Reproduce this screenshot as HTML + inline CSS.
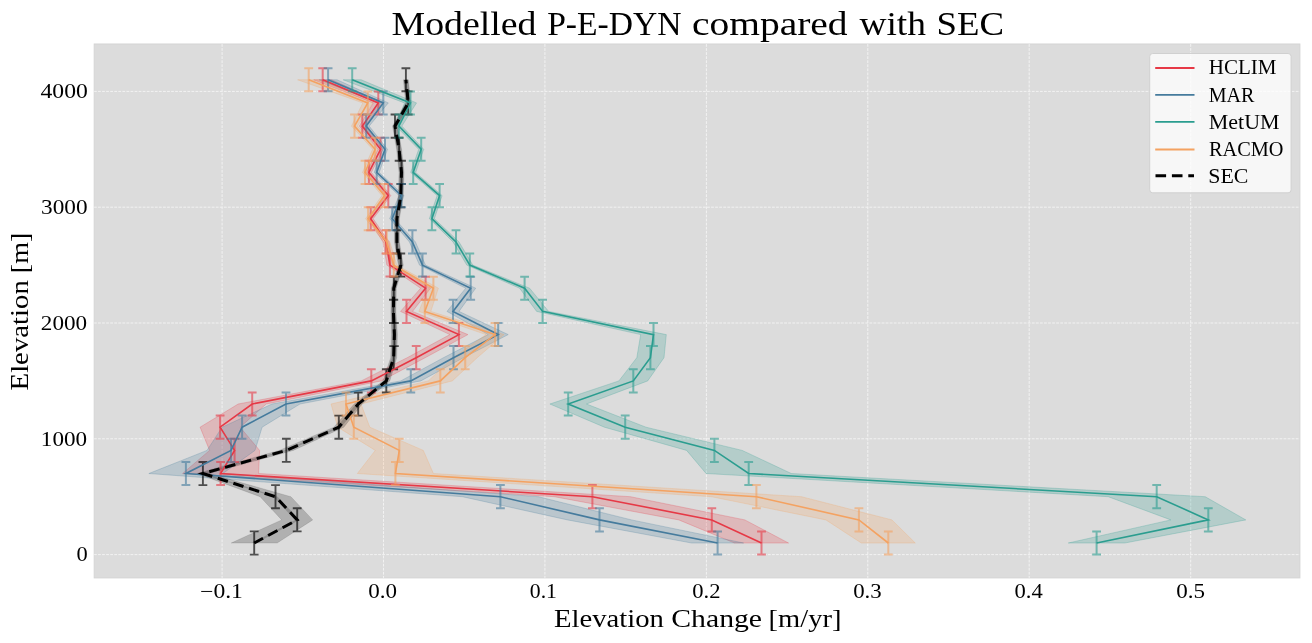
<!DOCTYPE html>
<html><head><meta charset="utf-8"><style>
html,body{margin:0;padding:0;background:#fff;width:1312px;height:643px;overflow:hidden}
svg{display:block;will-change:transform}
text{font-family:"Liberation Serif",serif;fill:#000}
</style></head><body>
<svg width="1312" height="643" viewBox="0 0 1312 643">
<rect x="0" y="0" width="1312" height="643" fill="#ffffff"/>
<rect x="94.2" y="44.0" width="1205.7" height="533.9" fill="#dcdcdc" stroke="#d4d4d4" stroke-width="1"/>
<defs><clipPath id="ax"><rect x="94.2" y="44.0" width="1205.7" height="533.9"/></clipPath></defs>
<g stroke="#f2f2f2" stroke-width="1" stroke-dasharray="2.8,1.26" stroke-dashoffset="0.8" fill="none"><line x1="222.1" y1="577.9" x2="222.1" y2="44.0"/><line x1="383.5" y1="577.9" x2="383.5" y2="44.0"/><line x1="544.9" y1="577.9" x2="544.9" y2="44.0"/><line x1="706.4" y1="577.9" x2="706.4" y2="44.0"/><line x1="867.8" y1="577.9" x2="867.8" y2="44.0"/><line x1="1029.2" y1="577.9" x2="1029.2" y2="44.0"/><line x1="1190.7" y1="577.9" x2="1190.7" y2="44.0"/></g>
<g stroke="#f2f2f2" stroke-width="1" stroke-dasharray="2.8,1.26" stroke-dashoffset="0.23" fill="none"><line x1="94.2" y1="554.6" x2="1299.9" y2="554.6"/><line x1="94.2" y1="438.8" x2="1299.9" y2="438.8"/><line x1="94.2" y1="323.0" x2="1299.9" y2="323.0"/><line x1="94.2" y1="207.2" x2="1299.9" y2="207.2"/><line x1="94.2" y1="91.4" x2="1299.9" y2="91.4"/></g>
<g clip-path="url(#ax)">
<polygon points="734.5,543.0 678.8,519.9 554.4,496.7 182.6,473.5 209.6,450.4 200.1,427.2 238.2,404.0 361.3,380.9 407.2,357.7 449.9,334.6 400.5,311.4 420.6,288.2 386.9,265.1 383.0,241.9 368.2,218.7 385.8,195.6 366.4,172.4 378.1,149.3 359.3,126.1 373.3,102.9 313.7,79.8 331.7,79.8 383.3,102.9 365.3,126.1 383.1,149.3 371.4,172.4 390.8,195.6 373.2,218.7 389.0,241.9 392.9,265.1 430.6,288.2 412.5,311.4 467.9,334.6 425.2,357.7 381.3,380.9 266.2,404.0 240.1,427.2 259.6,450.4 258.6,473.5 630.4,496.7 744.8,519.9 788.5,543.0" fill="#e63946" fill-opacity="0.22" stroke="#e63946" stroke-opacity="0.25" stroke-width="1"/>
<polygon points="691.6,543.0 567.5,519.9 462.4,496.7 148.9,473.5 207.0,450.4 222.1,427.2 272.0,404.0 400.8,380.9 443.5,357.7 488.2,334.6 447.0,311.4 465.7,288.2 419.5,265.1 409.4,241.9 389.7,218.7 399.0,195.6 374.2,172.4 382.5,149.3 363.2,126.1 378.3,102.9 319.1,79.8 337.1,79.8 388.3,102.9 369.2,126.1 387.5,149.3 379.2,172.4 404.0,195.6 394.7,218.7 415.4,241.9 425.5,265.1 475.7,288.2 459.0,311.4 508.2,334.6 463.5,357.7 420.8,380.9 300.0,404.0 262.1,427.2 255.0,450.4 222.9,473.5 538.4,496.7 631.5,519.9 743.6,543.0" fill="#457b9d" fill-opacity="0.22" stroke="#457b9d" stroke-opacity="0.25" stroke-width="1"/>
<polygon points="1068.3,543.0 1170.8,519.9 1108.2,496.7 706.1,473.5 686.6,450.4 604.4,427.2 549.9,404.0 618.9,380.9 636.8,357.7 640.7,334.6 536.6,311.4 519.6,288.2 466.8,265.1 453.0,241.9 429.4,218.7 437.1,195.6 410.7,172.4 418.7,149.3 395.9,126.1 404.5,102.9 343.2,79.8 361.2,79.8 416.5,102.9 401.9,126.1 423.7,149.3 415.7,172.4 442.1,195.6 434.4,218.7 459.0,241.9 472.8,265.1 529.6,288.2 548.6,311.4 666.3,334.6 664.0,357.7 647.7,380.9 586.5,404.0 646.0,427.2 742.2,450.4 791.3,473.5 1205.2,496.7 1245.8,519.9 1124.9,543.0" fill="#2a9d8f" fill-opacity="0.22" stroke="#2a9d8f" stroke-opacity="0.25" stroke-width="1"/>
<polygon points="861.3,543.0 825.9,519.9 711.4,496.7 357.4,473.5 375.3,450.4 337.8,427.2 331.0,404.0 428.3,380.9 453.2,357.7 486.0,334.6 418.8,311.4 428.4,288.2 390.8,265.1 383.8,241.9 365.6,218.7 381.9,195.6 362.5,172.4 372.6,149.3 351.5,126.1 362.8,102.9 297.7,79.8 319.7,79.8 372.8,102.9 357.5,126.1 377.6,149.3 367.5,172.4 386.9,195.6 370.6,218.7 389.8,241.9 396.8,265.1 438.4,288.2 430.8,311.4 504.0,334.6 477.2,357.7 452.3,380.9 361.0,404.0 369.8,427.2 423.3,450.4 433.4,473.5 801.4,496.7 891.9,519.9 915.3,543.0" fill="#f4a261" fill-opacity="0.22" stroke="#f4a261" stroke-opacity="0.25" stroke-width="1"/>
<polygon points="231.2,543.0 281.7,519.9 260.1,496.7 196.9,473.5 279.3,450.4 333.8,427.2 354.2,404.0 382.8,380.9 390.7,357.7 391.4,334.6 390.9,311.4 391.3,288.2 398.3,265.1 394.4,241.9 394.4,218.7 398.3,195.6 399.0,172.4 396.6,149.3 392.5,126.1 405.7,102.9 403.4,79.8 408.4,79.8 410.7,102.9 397.5,126.1 401.6,149.3 404.0,172.4 403.3,195.6 399.4,218.7 399.4,241.9 403.3,265.1 396.3,288.2 395.9,311.4 397.4,334.6 396.7,357.7 389.8,380.9 362.2,404.0 343.8,427.2 293.3,450.4 208.9,473.5 290.9,496.7 312.7,519.9 277.2,543.0" fill="#000" fill-opacity="0.2" stroke="#000" stroke-opacity="0.1" stroke-width="1"/>
<polygon points="252.0,543.0 295.0,519.9 273.3,496.7 200.7,473.5 284.1,450.4 336.6,427.2 356.0,404.0 384.1,380.9 391.5,357.7 392.2,334.6 391.2,311.4 391.6,288.2 398.6,265.1 394.7,241.9 394.7,218.7 398.6,195.6 399.3,172.4 396.9,149.3 392.8,126.1 406.0,102.9 403.7,79.8 408.1,79.8 410.4,102.9 397.2,126.1 401.3,149.3 403.7,172.4 403.0,195.6 399.1,218.7 399.1,241.9 403.0,265.1 396.0,288.2 395.6,311.4 396.6,334.6 395.9,357.7 388.5,380.9 360.4,404.0 341.0,427.2 288.5,450.4 205.1,473.5 277.7,496.7 299.4,519.9 256.4,543.0" fill="#000" fill-opacity="0.18" stroke="none"/>
<path d="M254.2,531.4V554.6M249.8,531.4H258.6M249.8,554.6H258.6M297.2,508.3V531.4M292.8,508.3H301.6M292.8,531.4H301.6M275.5,485.1V508.3M271.1,485.1H279.9M271.1,508.3H279.9M202.9,462.0V485.1M198.5,462.0H207.3M198.5,485.1H207.3M286.3,438.8V461.9M281.9,438.8H290.7M281.9,461.9H290.7M338.8,415.6V438.8M334.4,415.6H343.2M334.4,438.8H343.2M358.2,392.5V415.6M353.8,392.5H362.6M353.8,415.6H362.6M386.3,369.3V392.5M381.9,369.3H390.7M381.9,392.5H390.7M393.7,346.1V369.3M389.3,346.1H398.1M389.3,369.3H398.1M394.4,323.0V346.1M390.0,323.0H398.8M390.0,346.1H398.8M393.4,299.8V323.0M389.0,299.8H397.8M389.0,323.0H397.8M393.8,276.7V299.8M389.4,276.7H398.2M389.4,299.8H398.2M400.8,253.5V276.6M396.4,253.5H405.2M396.4,276.6H405.2M396.9,230.3V253.5M392.5,230.3H401.3M392.5,253.5H401.3M396.9,207.2V230.3M392.5,207.2H401.3M392.5,230.3H401.3M400.8,184.0V207.2M396.4,184.0H405.2M396.4,207.2H405.2M401.5,160.8V184.0M397.1,160.8H405.9M397.1,184.0H405.9M399.1,137.7V160.8M394.7,137.7H403.5M394.7,160.8H403.5M395.0,114.5V137.7M390.6,114.5H399.4M390.6,137.7H399.4M408.2,91.4V114.5M403.8,91.4H412.6M403.8,114.5H412.6M405.9,68.2V91.3M401.5,68.2H410.3M401.5,91.3H410.3" fill="none" stroke="#000" stroke-opacity="0.65" stroke-width="1.9"/>
<polyline points="761.5,543.0 711.8,519.9 592.4,496.7 220.6,473.5 234.6,450.4 220.1,427.2 252.2,404.0 371.3,380.9 416.2,357.7 458.9,334.6 406.5,311.4 425.6,288.2 389.9,265.1 386.0,241.9 370.7,218.7 388.3,195.6 368.9,172.4 380.6,149.3 362.3,126.1 378.3,102.9 322.7,79.8" fill="none" stroke="#e63946" stroke-width="1.6" stroke-linejoin="miter"/>
<path d="M761.5,531.4V554.6M757.1,531.4H765.9M757.1,554.6H765.9M711.8,508.3V531.4M707.4,508.3H716.2M707.4,531.4H716.2M592.4,485.1V508.3M588.0,485.1H596.8M588.0,508.3H596.8M220.6,462.0V485.1M216.2,462.0H225.0M216.2,485.1H225.0M234.6,438.8V461.9M230.2,438.8H239.0M230.2,461.9H239.0M220.1,415.6V438.8M215.7,415.6H224.5M215.7,438.8H224.5M252.2,392.5V415.6M247.8,392.5H256.6M247.8,415.6H256.6M371.3,369.3V392.5M366.9,369.3H375.7M366.9,392.5H375.7M416.2,346.1V369.3M411.8,346.1H420.6M411.8,369.3H420.6M458.9,323.0V346.1M454.5,323.0H463.3M454.5,346.1H463.3M406.5,299.8V323.0M402.1,299.8H410.9M402.1,323.0H410.9M425.6,276.7V299.8M421.2,276.7H430.0M421.2,299.8H430.0M389.9,253.5V276.6M385.5,253.5H394.3M385.5,276.6H394.3M386.0,230.3V253.5M381.6,230.3H390.4M381.6,253.5H390.4M370.7,207.2V230.3M366.3,207.2H375.1M366.3,230.3H375.1M388.3,184.0V207.2M383.9,184.0H392.7M383.9,207.2H392.7M368.9,160.8V184.0M364.5,160.8H373.3M364.5,184.0H373.3M380.6,137.7V160.8M376.2,137.7H385.0M376.2,160.8H385.0M362.3,114.5V137.7M357.9,114.5H366.7M357.9,137.7H366.7M378.3,91.4V114.5M373.9,91.4H382.7M373.9,114.5H382.7M322.7,68.2V91.3M318.3,68.2H327.1M318.3,91.3H327.1" fill="none" stroke="#e63946" stroke-opacity="0.6" stroke-width="2"/>
<polyline points="717.6,543.0 599.5,519.9 500.4,496.7 185.9,473.5 231.0,450.4 242.1,427.2 286.0,404.0 410.8,380.9 453.5,357.7 498.2,334.6 453.0,311.4 470.7,288.2 422.5,265.1 412.4,241.9 392.2,218.7 401.5,195.6 376.7,172.4 385.0,149.3 366.2,126.1 383.3,102.9 328.1,79.8" fill="none" stroke="#457b9d" stroke-width="1.6" stroke-linejoin="miter"/>
<path d="M717.6,531.4V554.6M713.2,531.4H722.0M713.2,554.6H722.0M599.5,508.3V531.4M595.1,508.3H603.9M595.1,531.4H603.9M500.4,485.1V508.3M496.0,485.1H504.8M496.0,508.3H504.8M185.9,462.0V485.1M181.5,462.0H190.3M181.5,485.1H190.3M231.0,438.8V461.9M226.6,438.8H235.4M226.6,461.9H235.4M242.1,415.6V438.8M237.7,415.6H246.5M237.7,438.8H246.5M286.0,392.5V415.6M281.6,392.5H290.4M281.6,415.6H290.4M410.8,369.3V392.5M406.4,369.3H415.2M406.4,392.5H415.2M453.5,346.1V369.3M449.1,346.1H457.9M449.1,369.3H457.9M498.2,323.0V346.1M493.8,323.0H502.6M493.8,346.1H502.6M453.0,299.8V323.0M448.6,299.8H457.4M448.6,323.0H457.4M470.7,276.7V299.8M466.3,276.7H475.1M466.3,299.8H475.1M422.5,253.5V276.6M418.1,253.5H426.9M418.1,276.6H426.9M412.4,230.3V253.5M408.0,230.3H416.8M408.0,253.5H416.8M392.2,207.2V230.3M387.8,207.2H396.6M387.8,230.3H396.6M401.5,184.0V207.2M397.1,184.0H405.9M397.1,207.2H405.9M376.7,160.8V184.0M372.3,160.8H381.1M372.3,184.0H381.1M385.0,137.7V160.8M380.6,137.7H389.4M380.6,160.8H389.4M366.2,114.5V137.7M361.8,114.5H370.6M361.8,137.7H370.6M383.3,91.4V114.5M378.9,91.4H387.7M378.9,114.5H387.7M328.1,68.2V91.3M323.7,68.2H332.5M323.7,91.3H332.5" fill="none" stroke="#457b9d" stroke-opacity="0.6" stroke-width="2"/>
<polyline points="1096.6,543.0 1208.3,519.9 1156.7,496.7 748.7,473.5 714.4,450.4 625.2,427.2 568.2,404.0 633.3,380.9 650.4,357.7 653.5,334.6 542.6,311.4 524.6,288.2 469.8,265.1 456.0,241.9 431.9,218.7 439.6,195.6 413.2,172.4 421.2,149.3 398.9,126.1 410.5,102.9 352.2,79.8" fill="none" stroke="#2a9d8f" stroke-width="1.6" stroke-linejoin="miter"/>
<path d="M1096.6,531.4V554.6M1092.2,531.4H1101.0M1092.2,554.6H1101.0M1208.3,508.3V531.4M1203.9,508.3H1212.7M1203.9,531.4H1212.7M1156.7,485.1V508.3M1152.3,485.1H1161.1M1152.3,508.3H1161.1M748.7,462.0V485.1M744.3,462.0H753.1M744.3,485.1H753.1M714.4,438.8V461.9M710.0,438.8H718.8M710.0,461.9H718.8M625.2,415.6V438.8M620.8,415.6H629.6M620.8,438.8H629.6M568.2,392.5V415.6M563.8,392.5H572.6M563.8,415.6H572.6M633.3,369.3V392.5M628.9,369.3H637.7M628.9,392.5H637.7M650.4,346.1V369.3M646.0,346.1H654.8M646.0,369.3H654.8M653.5,323.0V346.1M649.1,323.0H657.9M649.1,346.1H657.9M542.6,299.8V323.0M538.2,299.8H547.0M538.2,323.0H547.0M524.6,276.7V299.8M520.2,276.7H529.0M520.2,299.8H529.0M469.8,253.5V276.6M465.4,253.5H474.2M465.4,276.6H474.2M456.0,230.3V253.5M451.6,230.3H460.4M451.6,253.5H460.4M431.9,207.2V230.3M427.5,207.2H436.3M427.5,230.3H436.3M439.6,184.0V207.2M435.2,184.0H444.0M435.2,207.2H444.0M413.2,160.8V184.0M408.8,160.8H417.6M408.8,184.0H417.6M421.2,137.7V160.8M416.8,137.7H425.6M416.8,160.8H425.6M398.9,114.5V137.7M394.5,114.5H403.3M394.5,137.7H403.3M410.5,91.4V114.5M406.1,91.4H414.9M406.1,114.5H414.9M352.2,68.2V91.3M347.8,68.2H356.6M347.8,91.3H356.6" fill="none" stroke="#2a9d8f" stroke-opacity="0.6" stroke-width="2"/>
<polyline points="888.3,543.0 858.9,519.9 756.4,496.7 395.4,473.5 399.3,450.4 353.8,427.2 346.0,404.0 440.3,380.9 465.2,357.7 495.0,334.6 424.8,311.4 433.4,288.2 393.8,265.1 386.8,241.9 368.1,218.7 384.4,195.6 365.0,172.4 375.1,149.3 354.5,126.1 367.8,102.9 308.7,79.8" fill="none" stroke="#f4a261" stroke-width="1.6" stroke-linejoin="miter"/>
<path d="M888.3,531.4V554.6M883.9,531.4H892.7M883.9,554.6H892.7M858.9,508.3V531.4M854.5,508.3H863.3M854.5,531.4H863.3M756.4,485.1V508.3M752.0,485.1H760.8M752.0,508.3H760.8M395.4,462.0V485.1M391.0,462.0H399.8M391.0,485.1H399.8M399.3,438.8V461.9M394.9,438.8H403.7M394.9,461.9H403.7M353.8,415.6V438.8M349.4,415.6H358.2M349.4,438.8H358.2M346.0,392.5V415.6M341.6,392.5H350.4M341.6,415.6H350.4M440.3,369.3V392.5M435.9,369.3H444.7M435.9,392.5H444.7M465.2,346.1V369.3M460.8,346.1H469.6M460.8,369.3H469.6M495.0,323.0V346.1M490.6,323.0H499.4M490.6,346.1H499.4M424.8,299.8V323.0M420.4,299.8H429.2M420.4,323.0H429.2M433.4,276.7V299.8M429.0,276.7H437.8M429.0,299.8H437.8M393.8,253.5V276.6M389.4,253.5H398.2M389.4,276.6H398.2M386.8,230.3V253.5M382.4,230.3H391.2M382.4,253.5H391.2M368.1,207.2V230.3M363.7,207.2H372.5M363.7,230.3H372.5M384.4,184.0V207.2M380.0,184.0H388.8M380.0,207.2H388.8M365.0,160.8V184.0M360.6,160.8H369.4M360.6,184.0H369.4M375.1,137.7V160.8M370.7,137.7H379.5M370.7,160.8H379.5M354.5,114.5V137.7M350.1,114.5H358.9M350.1,137.7H358.9M367.8,91.4V114.5M363.4,91.4H372.2M363.4,114.5H372.2M308.7,68.2V91.3M304.3,68.2H313.1M304.3,91.3H313.1" fill="none" stroke="#f4a261" stroke-opacity="0.6" stroke-width="2"/>
<polyline points="254.2,543.0 297.2,519.9 275.5,496.7 202.9,473.5 286.3,450.4 338.8,427.2 358.2,404.0 386.3,380.9 393.7,357.7 394.4,334.6 393.4,311.4 393.8,288.2 400.8,265.1 396.9,241.9 396.9,218.7 400.8,195.6 401.5,172.4 399.1,149.3 395.0,126.1 408.2,102.9 405.9,79.8" fill="none" stroke="#000" stroke-width="3" stroke-dasharray="10.6,5.8" stroke-dashoffset="0.6"/>
</g>
<rect x="1149.7" y="53.5" width="141.4" height="139.3" rx="3" ry="3" fill="#ffffff" fill-opacity="0.78" stroke="#d0d0d0" stroke-width="1"/>
<line x1="1155.2" y1="68.0" x2="1194.5" y2="68.0" stroke="#e63946" stroke-width="1.8"/>
<line x1="1155.2" y1="94.8" x2="1194.5" y2="94.8" stroke="#457b9d" stroke-width="1.8"/>
<line x1="1155.2" y1="121.9" x2="1194.5" y2="121.9" stroke="#2a9d8f" stroke-width="1.8"/>
<line x1="1155.2" y1="149.5" x2="1194.5" y2="149.5" stroke="#f4a261" stroke-width="1.8"/>
<line x1="1155.5" y1="175.7" x2="1194.0" y2="175.7" stroke="#000" stroke-width="3" stroke-dasharray="10.6,5.8"/>
<text x="87.85" y="98.30" font-size="21.08" textLength="47.29" lengthAdjust="spacingAndGlyphs" text-anchor="end">4000</text>
<text x="87.85" y="561.35" font-size="21.08" textLength="11.24" lengthAdjust="spacingAndGlyphs" text-anchor="end">0</text>
<text x="221.48" y="598.05" font-size="19.96" textLength="42.80" lengthAdjust="spacingAndGlyphs" text-anchor="middle">−0.1</text>
<text x="382.62" y="598.05" font-size="19.96" textLength="28.80" lengthAdjust="spacingAndGlyphs" text-anchor="middle">0.0</text>
<text x="1190.57" y="598.30" font-size="20.71" textLength="28.80" lengthAdjust="spacingAndGlyphs" text-anchor="middle">0.5</text>
<text x="1208.75" y="74.20" font-size="20.64" textLength="67.77" lengthAdjust="spacingAndGlyphs" text-anchor="start">HCLIM</text>
<text x="1208.75" y="101.75" font-size="20.25" textLength="45.76" lengthAdjust="spacingAndGlyphs" text-anchor="start">MAR</text>
<text x="1208.75" y="128.85" font-size="20.25" textLength="70.77" lengthAdjust="spacingAndGlyphs" text-anchor="start">MetUM</text>
<text x="1209.00" y="155.70" font-size="20.26" textLength="74.53" lengthAdjust="spacingAndGlyphs" text-anchor="start">RACMO</text>
<text x="1208.25" y="182.90" font-size="20.26" textLength="40.16" lengthAdjust="spacingAndGlyphs" text-anchor="start">SEC</text>
<text x="87.10" y="445.65" font-size="20.71" textLength="46.22" lengthAdjust="spacingAndGlyphs" text-anchor="end">1000</text>
<text x="87.10" y="329.75" font-size="20.34" textLength="46.25" lengthAdjust="spacingAndGlyphs" text-anchor="end">2000</text>
<text x="87.60" y="213.75" font-size="19.97" textLength="46.50" lengthAdjust="spacingAndGlyphs" text-anchor="end">3000</text>
<text x="543.40" y="598.20" font-size="20.31" textLength="27.17" lengthAdjust="spacingAndGlyphs" text-anchor="middle">0.1</text>
<text x="706.40" y="598.20" font-size="20.31" textLength="28.26" lengthAdjust="spacingAndGlyphs" text-anchor="middle">0.2</text>
<text x="867.47" y="598.20" font-size="20.31" textLength="28.54" lengthAdjust="spacingAndGlyphs" text-anchor="middle">0.3</text>
<text x="1028.70" y="598.20" font-size="20.31" textLength="28.28" lengthAdjust="spacingAndGlyphs" text-anchor="middle">0.4</text>
<text x="391.50" y="34.50" font-size="33.72" textLength="145.02" lengthAdjust="spacingAndGlyphs" text-anchor="start">Modelled</text>
<text x="547.20" y="34.50" font-size="33.72" textLength="134.18" lengthAdjust="spacingAndGlyphs" text-anchor="start">P-E-DYN</text>
<text x="691.90" y="34.50" font-size="33.72" textLength="155.73" lengthAdjust="spacingAndGlyphs" text-anchor="start">compared</text>
<text x="859.40" y="34.50" font-size="33.72" textLength="66.61" lengthAdjust="spacingAndGlyphs" text-anchor="start">with</text>
<text x="936.60" y="34.50" font-size="33.72" textLength="67.45" lengthAdjust="spacingAndGlyphs" text-anchor="start">SEC</text>
<text x="553.95" y="627.10" font-size="26.01" textLength="109.96" lengthAdjust="spacingAndGlyphs" text-anchor="start">Elevation</text>
<text x="671.25" y="627.10" font-size="26.01" textLength="90.81" lengthAdjust="spacingAndGlyphs" text-anchor="start">Change</text>
<text x="768.60" y="627.10" font-size="26.01" textLength="72.84" lengthAdjust="spacingAndGlyphs" text-anchor="start">[m/yr]</text>
<text transform="translate(28.40,390.45) rotate(-90)" font-size="26.09" textLength="110.27" lengthAdjust="spacingAndGlyphs">Elevation</text>
<text transform="translate(28.40,273.20) rotate(-90)" font-size="26.09" textLength="40.49" lengthAdjust="spacingAndGlyphs">[m]</text>
</svg>
</body></html>
